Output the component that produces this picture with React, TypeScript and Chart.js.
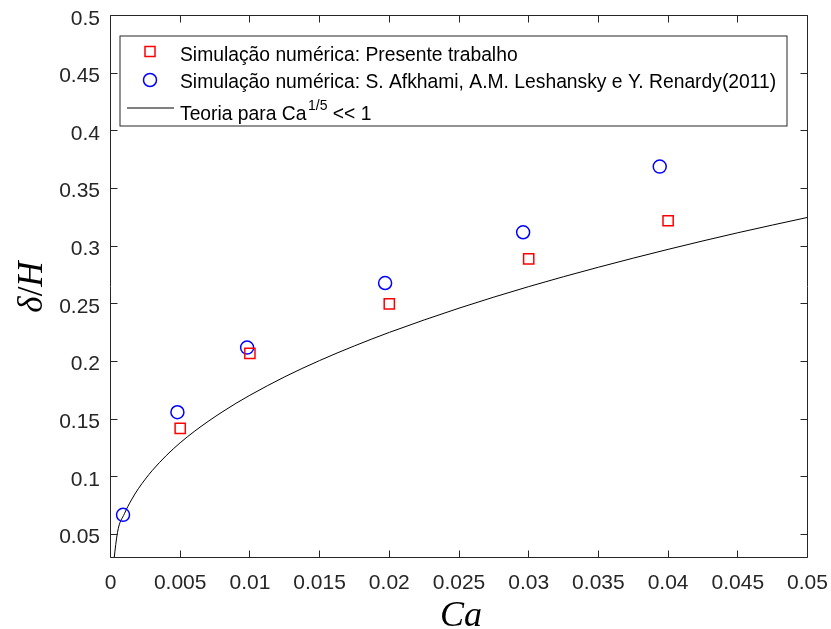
import React, { useEffect, useRef } from "react";
import { Chart, registerables } from "chart.js";

Chart.register(...registerables);

// Numerical results of this work
const caPresent = [0.005, 0.01, 0.02, 0.03, 0.04];
const deltaPresent = [0.142, 0.207, 0.25, 0.289, 0.322];

// Afkhami, Leshansky & Renardy (2011)
const caAfkhami = [0.0009, 0.0048, 0.0098, 0.0197, 0.0296, 0.0394];
const deltaAfkhami = [0.067, 0.156, 0.212, 0.268, 0.312, 0.369];

// Theoretical film thickness curve
const caTheory = [
  0, 0.0005, 0.001, 0.0015, 0.002, 0.0025, 0.003, 0.004, 0.005, 0.006, 0.007,
  0.008, 0.009, 0.01, 0.0125, 0.015, 0.0175, 0.02, 0.025, 0.03, 0.035, 0.04,
  0.045, 0.05,
];
const deltaTheory = [
  0, 0.0516, 0.068, 0.0799, 0.0897, 0.098, 0.1055, 0.1184, 0.1295, 0.1392,
  0.148, 0.1561, 0.1637, 0.1707, 0.1867, 0.2008, 0.2135, 0.2252, 0.2462,
  0.2649, 0.2817, 0.2972, 0.3116, 0.3249,
];

const xTickValues = [0, 0.005, 0.01, 0.015, 0.02, 0.025, 0.03, 0.035, 0.04, 0.045, 0.05];
const xTickLabels = ["0", "0.005", "0.01", "0.015", "0.02", "0.025", "0.03", "0.035", "0.04", "0.045", "0.05"];
const yTickValues = [0.05, 0.1, 0.15, 0.2, 0.25, 0.3, 0.35, 0.4, 0.45, 0.5];
const yTickLabels = ["0.05", "0.1", "0.15", "0.2", "0.25", "0.3", "0.35", "0.4", "0.45", "0.5"];

const legendPresent = "Simulação numérica: Presente trabalho";
const legendAfkhami = "Simulação numérica: S. Afkhami, A.M. Leshansky e Y. Renardy(2011)";
const legendTheory = ["Teoria para Ca", "1/5", " << 1"];

const xTitle = "Ca";
const yTitleParts = ["δ", "/", "H"];

const AXIS = "#262626";
const SANS = "'Liberation Sans', Arial, Helvetica, sans-serif";
const SERIF = "'Liberation Serif', 'Times New Roman', serif";
const TICK_FONT = `21px ${SANS}`;
const LEGEND_FONT = `19.3px ${SANS}`;

const framePlugin = {
  id: "matlabFrame",
  afterDatasetsDraw(chart: any) {
    const { ctx, chartArea: a, scales } = chart;
    const x = scales.x;
    const y = scales.y;
    ctx.save();
    ctx.strokeStyle = AXIS;
    ctx.lineWidth = 1;
    ctx.beginPath();
    ctx.rect(a.left, a.top, a.right - a.left, a.bottom - a.top);
    ctx.stroke();

    // inward tick marks on all four sides
    const tl = 7;
    ctx.beginPath();
    xTickValues.forEach((v) => {
      const px = Math.round(x.getPixelForValue(v) - 0.5) + 0.5;
      ctx.moveTo(px, a.bottom);
      ctx.lineTo(px, a.bottom - tl);
      ctx.moveTo(px, a.top);
      ctx.lineTo(px, a.top + tl);
    });
    yTickValues.forEach((v) => {
      const py = Math.round(y.getPixelForValue(v) - 0.5) + 0.5;
      ctx.moveTo(a.left, py);
      ctx.lineTo(a.left + tl, py);
      ctx.moveTo(a.right, py);
      ctx.lineTo(a.right - tl, py);
    });
    ctx.stroke();

    // tick labels
    ctx.fillStyle = AXIS;
    ctx.font = TICK_FONT;
    ctx.textBaseline = "alphabetic";
    ctx.textAlign = "center";
    xTickValues.forEach((v, i) => {
      ctx.fillText(xTickLabels[i], x.getPixelForValue(v), a.bottom + 31);
    });
    ctx.textAlign = "right";
    yTickValues.forEach((v, i) => {
      ctx.fillText(yTickLabels[i], a.left - 10.5, y.getPixelForValue(v) + 9);
    });

    // axis titles
    ctx.fillStyle = "#000";
    ctx.font = `italic 36px ${SERIF}`;
    ctx.textAlign = "center";
    ctx.fillText(xTitle, (a.left + a.right) / 2 + 2, 626);

    ctx.save();
    ctx.translate(42, 287);
    ctx.rotate(-Math.PI / 2);
    const fonts = [`italic 35px ${SERIF}`, `35px ${SERIF}`, `italic 35px ${SERIF}`];
    let total = 0;
    const widths = yTitleParts.map((p, i) => {
      ctx.font = fonts[i];
      const w = ctx.measureText(p).width;
      total += w;
      return w;
    });
    let cx = -total / 2;
    ctx.textAlign = "left";
    yTitleParts.forEach((p, i) => {
      ctx.font = fonts[i];
      ctx.fillText(p, cx, 0);
      cx += widths[i];
    });
    ctx.restore();
    ctx.restore();
  },
  afterDraw(chart: any) {
    const { ctx, chartArea: a } = chart;
    const L = a.left + 9.5;
    const T = a.top + 20.5;
    const W = 667;
    const H = 90;
    ctx.save();
    ctx.fillStyle = "#fff";
    ctx.fillRect(L, T, W, H);
    ctx.strokeStyle = AXIS;
    ctx.lineWidth = 1;
    ctx.strokeRect(L, T, W, H);

    const mx = L + 30;
    // square marker
    ctx.strokeStyle = "#ff0000";
    ctx.lineWidth = 1.5;
    ctx.strokeRect(mx - 5, T + 10.5, 10, 10);
    // circle marker
    ctx.strokeStyle = "#0000ff";
    ctx.beginPath();
    ctx.arc(mx, T + 44, 6.5, 0, Math.PI * 2);
    ctx.stroke();
    // line sample
    ctx.strokeStyle = "#000";
    ctx.lineWidth = 1;
    ctx.beginPath();
    ctx.moveTo(L + 7, T + 72);
    ctx.lineTo(L + 54, T + 72);
    ctx.stroke();

    const tx = L + 60;
    ctx.fillStyle = "#000";
    ctx.textAlign = "left";
    ctx.textBaseline = "alphabetic";
    ctx.font = LEGEND_FONT;
    ctx.fillText(legendPresent, tx, T + 24.5);
    ctx.fillText(legendAfkhami, tx, T + 51.5);
    ctx.fillText(legendTheory[0], tx, T + 84);
    let cx = tx + ctx.measureText(legendTheory[0]).width + 1.5;
    ctx.font = `14px ${SANS}`;
    ctx.fillText(legendTheory[1], cx, T + 74);
    cx += ctx.measureText(legendTheory[1]).width;
    ctx.font = LEGEND_FONT;
    ctx.fillText(legendTheory[2], cx, T + 84);
    ctx.restore();
  },
};

export default function App() {
  const ref = useRef<HTMLCanvasElement | null>(null);

  useEffect(() => {
    if (!ref.current) return;
    const chart = new Chart(ref.current, {
      type: "scatter",
      data: {
        datasets: [
          {
            type: "line",
            label: "Teoria",
            data: caTheory.map((c, i) => ({ x: c, y: deltaTheory[i] })),
            borderColor: "#000",
            borderWidth: 1,
            pointRadius: 0,
            cubicInterpolationMode: "monotone",
            fill: false,
            order: 3,
          },
          {
            label: "Afkhami",
            data: caAfkhami.map((c, i) => ({ x: c, y: deltaAfkhami[i] })),
            pointStyle: "circle",
            pointRadius: 6.5,
            borderColor: "#0000ff",
            backgroundColor: "rgba(0,0,0,0)",
            borderWidth: 1.5,
            order: 2,
          },
          {
            label: "Presente",
            data: caPresent.map((c, i) => ({ x: c, y: deltaPresent[i] })),
            pointStyle: "rect",
            pointRadius: 7.2,
            borderColor: "#ff0000",
            backgroundColor: "rgba(0,0,0,0)",
            borderWidth: 1.5,
            order: 1,
          },
        ],
      },
      options: {
        animation: false,
        responsive: false,
        maintainAspectRatio: false,
        devicePixelRatio: 1,
        layout: { padding: { top: 15.5, right: 23.5, left: 0, bottom: 0 } },
        plugins: { legend: { display: false }, tooltip: { enabled: false } },
        scales: {
          x: {
            type: "linear",
            min: 0,
            max: 0.05,
            afterBuildTicks: (s: any) => {
              s.ticks = xTickValues.map((v) => ({ value: v }));
            },
            afterFit: (s: any) => {
              s.height = 71.5;
            },
            grid: { display: false, drawTicks: false },
            border: { display: false },
            ticks: { display: false },
          },
          y: {
            type: "linear",
            min: 0.03,
            max: 0.5,
            afterBuildTicks: (s: any) => {
              s.ticks = yTickValues.map((v) => ({ value: v }));
            },
            afterFit: (s: any) => {
              s.width = 110.5;
            },
            grid: { display: false, drawTicks: false },
            border: { display: false },
            ticks: { display: false },
          },
        },
      },
      plugins: [framePlugin],
    } as any);
    return () => chart.destroy();
  }, []);

  return (
    <div style={{ position: "absolute", left: 0, top: 0, width: 831, height: 629, background: "#fff" }}>
      <canvas ref={ref} width={831} height={629} style={{ display: "block", width: 831, height: 629 }} />
    </div>
  );
}
